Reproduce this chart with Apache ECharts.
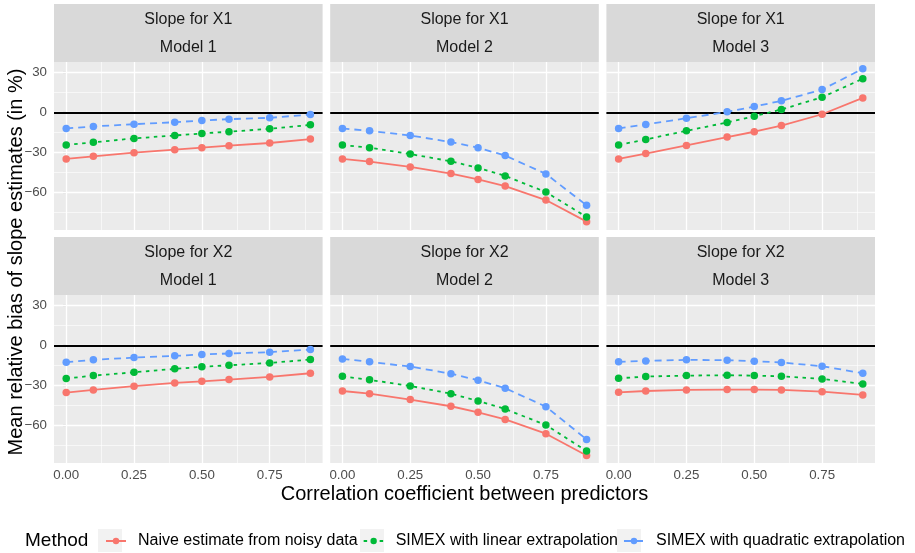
<!DOCTYPE html>
<html>
<head>
<meta charset="utf-8">
<script src="https://cdn.jsdelivr.net/npm/echarts@6/dist/echarts.min.js"></script>
<style>
html,body{margin:0;padding:0;background:#fff;}
#chart{width:915px;height:553px;}
</style>
</head>
<body>
<div id="chart"></div>
<script>
// ---------- data ----------
const xValues = [0, 0.1, 0.25, 0.4, 0.5, 0.6, 0.75, 0.9];
const methodNames = ['Naive estimate from noisy data', 'SIMEX with linear extrapolation', 'SIMEX with quadratic extrapolation'];
const stripLine1 = ['Slope for X1', 'Slope for X1', 'Slope for X1', 'Slope for X2', 'Slope for X2', 'Slope for X2'];
const stripLine2 = ['Model 1', 'Model 2', 'Model 3', 'Model 1', 'Model 2', 'Model 3'];
const xTickValues = [0, 0.25, 0.5, 0.75];
const xTickLabels = ['0.00', '0.25', '0.50', '0.75'];
const yTickValues = [-60, -30, 0, 30];
const yTickLabels = ['\u221260', '\u221230', '0', '30'];
const xMinorValues = [0.125, 0.375, 0.625, 0.875];
const yMinorValues = [-75, -45, -15, 15];

const x1m1Naive = [-35, -33, -30.3, -28, -26.5, -25, -23, -20];
const x1m1Linear = [-24.5, -22.5, -19.5, -17.3, -15.8, -14.5, -12.3, -9.3];
const x1m1Quad = [-12, -10.5, -8.8, -7.3, -6, -5, -4, -1.5];

const x1m2Naive = [-35, -37, -41, -46, -50.5, -55.5, -66, -82.3];
const x1m2Linear = [-24.5, -26.5, -31.3, -36.8, -41.8, -47.8, -60, -78.8];
const x1m2Quad = [-12, -13.8, -17.3, -22.3, -26.5, -32.5, -46.3, -70];

const x1m3Naive = [-35, -31, -24.8, -18.5, -14.5, -9.8, -1.3, 11];
const x1m3Linear = [-24.5, -20.3, -13.8, -7.5, -2.8, 2.3, 11.5, 25.5];
const x1m3Quad = [-12, -9, -4.3, 0.5, 4.5, 8.8, 17.3, 33];

const x2m1Naive = [-35.5, -33.5, -30.7, -28.2, -27, -25.7, -23.7, -20.9];
const x2m1Linear = [-24.9, -22.7, -20.2, -17.6, -16.1, -14.9, -13.1, -10.6];
const x2m1Quad = [-12.6, -10.8, -9.1, -7.8, -6.8, -6, -5, -3];

const x2m2Naive = [-34.3, -36.3, -40.8, -45.8, -50.4, -55.7, -66.5, -82.9];
const x2m2Linear = [-23.2, -25.9, -30.5, -36.3, -41.8, -47.9, -59.9, -79.6];
const x2m2Quad = [-10.1, -12.3, -15.9, -21.2, -26.2, -32.2, -46.1, -70.8];

const x2m3Naive = [-35.3, -34.3, -33.5, -33.2, -33.2, -33.5, -34.8, -37.3];
const x2m3Linear = [-24.7, -23.4, -22.7, -22.4, -22.7, -23.2, -25.2, -29];
const x2m3Quad = [-12.3, -11.6, -10.8, -11.1, -11.8, -12.8, -15.6, -20.9];

const panels = [
  [x1m1Naive, x1m1Linear, x1m1Quad],
  [x1m2Naive, x1m2Linear, x1m2Quad],
  [x1m3Naive, x1m3Linear, x1m3Quad],
  [x2m1Naive, x2m1Linear, x2m1Quad],
  [x2m2Naive, x2m2Linear, x2m2Quad],
  [x2m3Naive, x2m3Linear, x2m3Quad]
];

// ---------- style / layout ----------
const FONT = '"Liberation Sans", Arial, Helvetica, sans-serif';
const colors = ['#F8766D', '#00BA38', '#619CFF'];
const dashes = ['solid', [3.5, 4.5], [7, 5]];
const colLeft = [54, 330.2, 606.4];
const colW = 268.6;
const rowTop = [62, 295];
const rowH = 168;
const stripTop = [4, 237];
const stripH = 58;
const xMin = -0.045, xMax = 0.945;
const yMin = -88.6, yMax = 38.1;

const grids = [], xAxes = [], yAxes = [], series = [], graphics = [];

function labelFor(vals, labels, v) {
  for (let k = 0; k < vals.length; k++) if (Math.abs(vals[k] - v) < 1e-6) return labels[k];
  return '';
}

for (let i = 0; i < 6; i++) {
  const r = Math.floor(i / 3), c = i % 3;
  grids.push({left: colLeft[c], top: rowTop[r], width: colW, height: rowH,
    show: true, backgroundColor: '#EBEBEB', borderWidth: 0, containLabel: false});
  const showX = r === 1, showY = c === 0;
  xAxes.push({type: 'value', gridIndex: i, min: xMin, max: xMax,
    axisLine: {show: false},
    axisTick: {show: showX, customValues: xTickValues, length: 3.5, lineStyle: {color: '#333333', width: 1.1}},
    axisLabel: {show: showX, customValues: xTickValues, margin: 6, color: '#4D4D4D', fontSize: 13.3, fontFamily: FONT,
      formatter: v => labelFor(xTickValues, xTickLabels, v)},
    splitLine: {show: false}});
  yAxes.push({type: 'value', gridIndex: i, min: yMin, max: yMax,
    axisLine: {show: false},
    axisTick: {show: showY, customValues: yTickValues, length: 3.5, lineStyle: {color: '#333333', width: 1.1}},
    axisLabel: {show: showY, customValues: yTickValues, margin: 7, color: '#4D4D4D', fontSize: 13.3, fontFamily: FONT,
      formatter: v => labelFor(yTickValues, yTickLabels, v)},
    splitLine: {show: false}});

  // background grid lines + reference line at 0
  const ml = [];
  yMinorValues.forEach(v => ml.push({yAxis: v, lineStyle: {color: '#FFFFFF', width: 0.6, type: 'solid'}}));
  xMinorValues.forEach(v => ml.push({xAxis: v, lineStyle: {color: '#FFFFFF', width: 0.6, type: 'solid'}}));
  yTickValues.forEach(v => ml.push({yAxis: v, lineStyle: {color: '#FFFFFF', width: 1.3, type: 'solid'}}));
  xTickValues.forEach(v => ml.push({xAxis: v, lineStyle: {color: '#FFFFFF', width: 1.3, type: 'solid'}}));
  ml.push({yAxis: 0, lineStyle: {color: '#000000', width: 1.9, type: 'solid'}});
  series.push({type: 'line', name: 'bg' + i, xAxisIndex: i, yAxisIndex: i, data: [], silent: true, z: 1,
    markLine: {silent: true, z: 1, symbol: ['none', 'none'], label: {show: false}, animation: false, data: ml}});

  for (let m = 0; m < 3; m++) {
    series.push({type: 'line', name: methodNames[m], xAxisIndex: i, yAxisIndex: i, z: 10 + m,
      data: xValues.map((x, j) => [x, panels[i][m][j]]),
      symbol: 'circle', symbolSize: 7.5, showSymbol: true,
      itemStyle: {color: colors[m]},
      lineStyle: {color: colors[m], width: 1.8, type: dashes[m]},
      emphasis: {disabled: true}, animation: false});
  }

  // strips
  graphics.push({type: 'rect', shape: {x: colLeft[c], y: stripTop[r], width: colW, height: stripH},
    style: {fill: '#D9D9D9'}, silent: true});
  graphics.push({type: 'text', x: colLeft[c] + colW / 2, y: stripTop[r] + 16,
    style: {text: stripLine1[i], font: '16px ' + FONT, fill: '#1A1A1A', align: 'center', verticalAlign: 'middle'}});
  graphics.push({type: 'text', x: colLeft[c] + colW / 2, y: stripTop[r] + 43.5,
    style: {text: stripLine2[i], font: '16px ' + FONT, fill: '#1A1A1A', align: 'center', verticalAlign: 'middle'}});
}

// axis titles
graphics.push({type: 'text', x: 464.5, y: 494,
  style: {text: 'Correlation coefficient between predictors', font: '20px ' + FONT, fill: '#000', align: 'center', verticalAlign: 'middle'}});
graphics.push({type: 'text', x: 16, y: 262, rotation: Math.PI / 2,
  style: {text: 'Mean relative bias of slope estimates (in %)', font: '20px ' + FONT, fill: '#000', align: 'center', verticalAlign: 'middle'}});
// legend title and key backgrounds
graphics.push({type: 'text', x: 25, y: 540.5,
  style: {text: 'Method', font: '19px ' + FONT, fill: '#000', align: 'left', verticalAlign: 'middle'}});
[98, 360, 617].forEach(x => graphics.push({type: 'rect', shape: {x: x, y: 529, width: 24, height: 23}, style: {fill: '#F2F2F2'}, z: -1}));

const chart = echarts.init(document.getElementById('chart'), null, {renderer: 'canvas'});
chart.setOption({
  animation: false,
  backgroundColor: '#FFFFFF',
  grid: grids,
  xAxis: xAxes,
  yAxis: yAxes,
  legend: {data: methodNames, left: 100, top: 528, itemWidth: 20, itemHeight: 8, itemGap: 5,
    selectedMode: false,
    textStyle: {fontSize: 16, fontFamily: FONT, color: '#000', padding: [0, 0, 0, 7]}},
  graphic: graphics,
  series: series
});
</script>
</body>
</html>
